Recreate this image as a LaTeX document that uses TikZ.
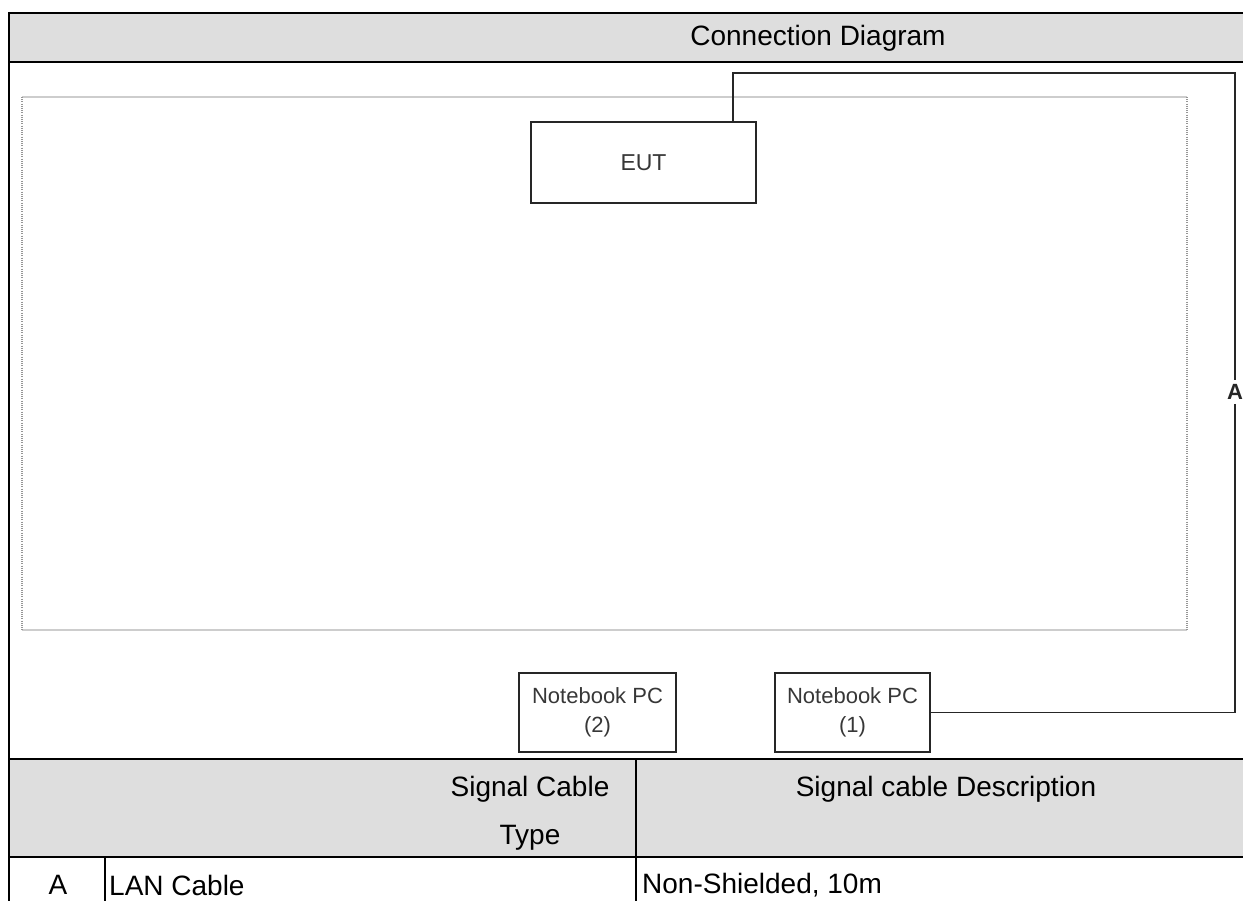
\documentclass[tikz,border=0pt]{standalone}
\usepackage{fontspec}
\setmainfont{Liberation Sans}
\definecolor{hdr}{RGB}{222,222,222}
\definecolor{frameg}{RGB}{205,205,205}
\definecolor{dotg}{RGB}{150,150,150}
\definecolor{boxtxt}{RGB}{55,55,55}
\tikzset{
  tline/.style={line width=2.5pt, black},
  devbox/.style={draw=black!85, line width=2.3pt, inner sep=0pt, align=center, text=boxtxt},
  wire/.style={draw=black!85, line width=1.4pt},
  ttext/.style={font=\fontsize{28}{48}\selectfont, inner sep=0pt}
}
\begin{document}
\begin{tikzpicture}[x=1pt,y=-1pt]
\useasboundingbox (0,0) rectangle (1243,901);
% header row
\fill[hdr] (9,13) rectangle (1243,62);
\fill[hdr] (9,759) rectangle (1243,857);
\node[ttext] (title) at (818,38) {Connection Diagram};
% dotted test-area frame
\draw[frameg, line width=1.6pt] (22,97) -- (1187,97);
\draw[frameg, line width=1.6pt] (22,630) -- (1187,630);
\draw[dotg, line width=1.4pt, dash pattern=on 1pt off 1.2pt] (22,97) -- (22,630);
\draw[dotg, line width=1.4pt, dash pattern=on 1pt off 1.2pt] (1187,97) -- (1187,630);
% devices
\node[devbox, minimum width=225pt, minimum height=81pt, font=\fontsize{23}{26}\selectfont] (eut) at (643.5,162.5) {EUT};
\node[devbox, minimum width=157pt, minimum height=79pt, font=\fontsize{22}{29}\selectfont] (pc2) at (597.5,712.5) {Notebook PC\\(2)};
\node[devbox, minimum width=155pt, minimum height=79pt, font=\fontsize{22}{29}\selectfont] (pc1) at (852.5,712.5) {Notebook PC\\(1)};
% cable A
\coordinate (wx) at (733,0);
\coordinate (tr) at (1235,73);
\node[font=\bfseries\fontsize{22}{26}\selectfont, inner sep=4pt, text=black!85] (la) at (1235,392) {A};
\draw[wire] (eut.north -| wx) |- (tr) -- (la.north);
\draw[wire] (la.south) |- (pc1.east);
% table lines
\draw[tline] (9,13) -- (1243,13);
\draw[tline] (9,62) -- (1243,62);
\draw[tline] (9,759) -- (1243,759);
\draw[tline] (9,857) -- (1243,857);
\draw[tline] (9,12) -- (9,901);
\draw[tline] (636,759) -- (636,901);
\draw[tline] (105,857) -- (105,901);
% table texts
\node[ttext, align=center] (h1) at (530,813) {Signal Cable\\Type};
\node[ttext] (h2) at (946,789) {Signal cable Description};
\node[ttext] (ra) at (58,885) {A};
\node[ttext, anchor=west] (rb) at (109,885) {LAN Cable};
\node[ttext, anchor=west] (rc) at (642,885) {Non-Shielded, 10m};
\end{tikzpicture}
\end{document}
